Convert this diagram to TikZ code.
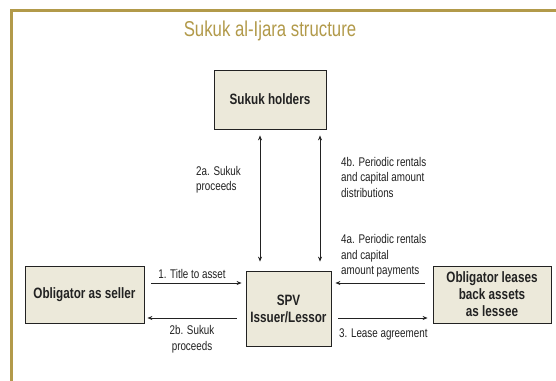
\documentclass[tikz,border=0pt]{standalone}
\usepackage{fontspec}
\setmainfont[FakeStretch=0.78]{Liberation Sans}
\usetikzlibrary{arrows.meta}
\definecolor{gold}{HTML}{B29A4A}
\definecolor{boxfill}{HTML}{ECE9DA}
\definecolor{ink}{HTML}{222222}
\tikzset{
  party/.style={draw=ink, line width=0.8pt, fill=boxfill, align=center,
    font=\fontsize{15}{17}\selectfont\bfseries, text=ink, inner sep=0pt},
  flow/.style={draw=ink, line width=0.8pt, -{Stealth[length=5pt,width=4pt]}},
  twoway/.style={draw=ink, line width=0.8pt, {Stealth[length=5pt,width=4pt]}-{Stealth[length=5pt,width=4pt]}},
  lbl/.style={font=\fontsize{12.6}{15.5}\selectfont, text=ink, inner sep=0pt}
}
\begin{document}
\begin{tikzpicture}[x=1pt,y=-1pt]
\useasboundingbox (0,0) rectangle (556,380);
\fill[white] (0,0) rectangle (556,380);
% open frame: top and left rules
\draw[gold, line width=3pt] (11,400) -- (11,10) -- (570,10);
\node[text=gold, font=\fontsize{21.5}{26}\selectfont] (title) at (270,31) {Sukuk al-Ijara structure};

% parties
\node[party, minimum width=112pt, minimum height=59pt] (holders) at (270,99.5) {Sukuk holders};
\node[party, minimum width=85pt, minimum height=75pt] (spv) at (288.5,308.5) {SPV\\Issuer/Lessor};
\node[party, minimum width=119pt, minimum height=57pt] (seller) at (84.5,294.5) {Obligator as seller};
\node[party, minimum width=118pt, minimum height=57pt] (lessee) at (492,294.5) {Obligator leases\\back assets\\as lessee};

% flows between the SPV and the sukuk holders
\draw[twoway] ([xshift=-10pt,yshift=-6pt]holders.south) -- ([xshift=-28.5pt,yshift=9pt]spv.north);
\draw[twoway] ([xshift=50pt,yshift=-6pt]holders.south) -- ([xshift=31.5pt,yshift=9pt]spv.north);

% flows with the obligator as seller
\draw[flow] ([xshift=7pt,yshift=11.5pt]seller.east) -- ([xshift=-4pt,yshift=25.5pt]spv.west);
\draw[flow] ([xshift=-9pt,yshift=-9.5pt]spv.west) -- ([xshift=3pt,yshift=-23.5pt]seller.east);

% flows with the obligator as lessee
\draw[flow] ([xshift=-8pt,yshift=11.5pt]lessee.west) -- ([xshift=4pt,yshift=25.5pt]spv.east);
\draw[flow] ([xshift=7pt,yshift=-9.5pt]spv.east) -- ([xshift=-5pt,yshift=-23.5pt]lessee.west);

% labels
\node[lbl, anchor=west, align=left] (l2a) at (196,179.5) {2a. Sukuk\\proceeds};
\node[lbl, anchor=west, align=left] (l4b) at (341,177) {4b. Periodic rentals\\and capital amount\\distributions};
\node[lbl, anchor=west, align=left] (l4a) at (341,256) {4a. Periodic rentals\\and capital\\amount payments};
\node[lbl] (l1) at (192,274) {1. Title to asset};
\node[lbl, align=center] (l2b) at (192,339) {2b. Sukuk\\proceeds};
\node[lbl, anchor=west] (l3) at (339,334) {3. Lease agreement};
\end{tikzpicture}
\end{document}
